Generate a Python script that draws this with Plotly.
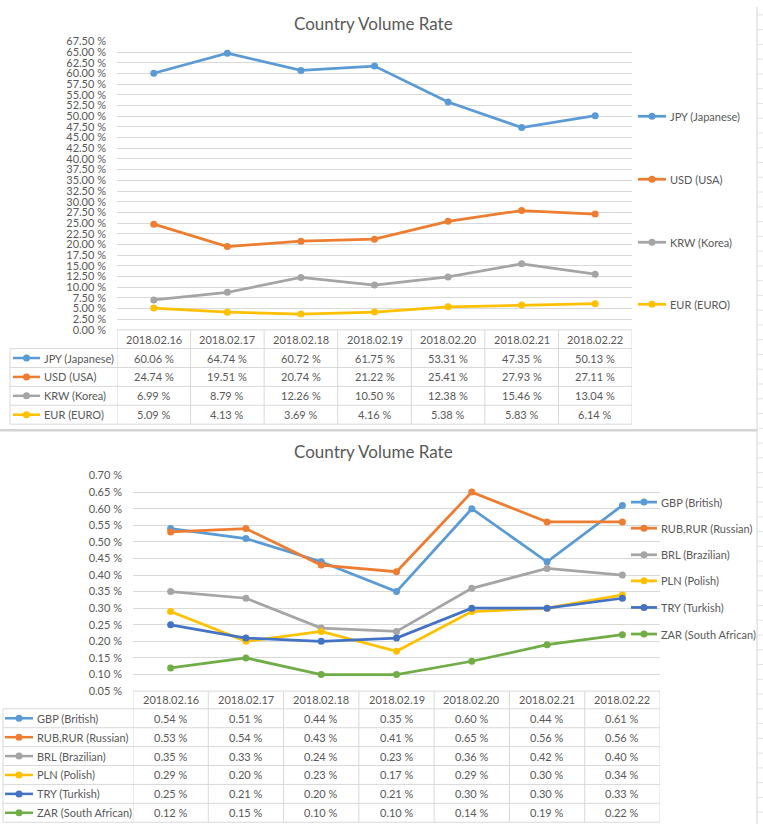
import plotly.graph_objects as go

# ---------------- data ----------------
dates = ["2018.02.16", "2018.02.17", "2018.02.18", "2018.02.19",
         "2018.02.20", "2018.02.21", "2018.02.22"]

names1 = ["JPY (Japanese)", "USD (USA)", "KRW (Korea)", "EUR (EURO)"]
jpy = [60.06, 64.74, 60.72, 61.75, 53.31, 47.35, 50.13]
usd = [24.74, 19.51, 20.74, 21.22, 25.41, 27.93, 27.11]
krw = [6.99, 8.79, 12.26, 10.50, 12.38, 15.46, 13.04]
eur = [5.09, 4.13, 3.69, 4.16, 5.38, 5.83, 6.14]
series1 = [jpy, usd, krw, eur]

names2 = ["GBP (British)", "RUB,RUR (Russian)", "BRL (Brazilian)",
          "PLN (Polish)", "TRY (Turkish)", "ZAR (South African)"]
gbp = [0.54, 0.51, 0.44, 0.35, 0.60, 0.44, 0.61]
rub = [0.53, 0.54, 0.43, 0.41, 0.65, 0.56, 0.56]
brl = [0.35, 0.33, 0.24, 0.23, 0.36, 0.42, 0.40]
pln = [0.29, 0.20, 0.23, 0.17, 0.29, 0.30, 0.34]
tryl = [0.25, 0.21, 0.20, 0.21, 0.30, 0.30, 0.33]
zar = [0.12, 0.15, 0.10, 0.10, 0.14, 0.19, 0.22]
series2 = [gbp, rub, brl, pln, tryl, zar]

title_text = "Country Volume Rate"

# ---------------- style ----------------
W, H = 763, 830
FONT = "Lato"
TXT = "#595959"
GRID = "#d9d9d9"
colors1 = ["#5B9BD5", "#ED7D31", "#A5A5A5", "#FFC000"]
colors2 = ["#5B9BD5", "#ED7D31", "#A5A5A5", "#FFC000", "#4472C4", "#70AD47"]


def X(px):
    return px / W


def Y(py):
    return 1 - py / H


fig = go.Figure()
shapes = []
annos = []

# chart geometry (pixels)
C1 = dict(xl=117, xr=632, yt=35, yb=328, tbl_left=10, hdr_b=347, row_h=19.2,
          key_x0=13, key_x1=40, key_tx=42, leg_y=[111, 175, 239, 302],
          leg_x0=638, leg_x1=666, leg_tx=668, title_y=17)
C2 = dict(xl=133, xr=660, yt=476, yb=695, tbl_left=3, hdr_b=713, row_h=19.2,
          key_x0=5, key_x1=33, key_tx=35,
          leg_y=[503, 529.5, 556.5, 583, 610, 637],
          leg_x0=631, leg_x1=657, leg_tx=659, title_y=452)


def build(idx, geo, names, series, colors, yrange, fmt):
    xa = "x" if idx == 1 else "x2"
    ya = "y" if idx == 1 else "y2"
    for nm, vals, col in zip(names, series, colors):
        fig.add_trace(go.Scatter(
            x=dates, y=vals, name=nm, mode="lines+markers",
            line=dict(color=col, width=2.75),
            marker=dict(color=col, size=7),
            xaxis=xa, yaxis=ya, showlegend=False,
            hovertemplate="%{x}: %{y:.2f} %<extra>" + nm + "</extra>"))
    axkey = "xaxis" if idx == 1 else "xaxis2"
    aykey = "yaxis" if idx == 1 else "yaxis2"
    fig.layout[axkey] = dict(
        domain=[X(geo["xl"]), X(geo["xr"])], range=[-0.5, len(dates) - 0.5],
        type="category", showticklabels=False, showgrid=False, zeroline=False,
        showline=False, anchor=ya, fixedrange=True)
    fig.layout[aykey] = dict(
        domain=[Y(geo["yb"]), Y(geo["yt"])], range=yrange,
        dtick=2.5 if idx == 1 else 0.05, tick0=0, tickformat=".2f",
        ticksuffix=" %", showgrid=True, gridcolor=GRID, gridwidth=1,
        zeroline=False, showline=False, ticks="", ticklabelstandoff=10,
        tickfont=dict(family=FONT, size=11, color=TXT), anchor=xa,
        fixedrange=True)

    xref = xa
    n = len(dates)
    hdr_t = geo["yb"]
    hdr_b = geo["hdr_b"]
    nrows = len(names)
    tbl_b = hdr_b + geo["row_h"] * nrows
    # header row top
    shapes.append(dict(type="line", xref=xref, yref="paper", x0=-0.5, x1=n - 0.5,
                       y0=Y(hdr_t), y1=Y(hdr_t), line=dict(color=GRID, width=1)))
    # horizontal rules below header and between rows
    for r in range(nrows + 1):
        yy = hdr_b + geo["row_h"] * r
        shapes.append(dict(type="line", xref="paper", yref="paper",
                           x0=X(geo["tbl_left"]), x1=X(geo["xr"]),
                           y0=Y(yy), y1=Y(yy), line=dict(color=GRID, width=1)))
    # vertical rules
    for k in range(n + 1):
        shapes.append(dict(type="line", xref=xref, yref="paper", x0=k - 0.5, x1=k - 0.5,
                           y0=Y(hdr_t), y1=Y(tbl_b), line=dict(color=GRID, width=1)))
    shapes.append(dict(type="line", xref="paper", yref="paper",
                       x0=X(geo["tbl_left"]), x1=X(geo["tbl_left"]),
                       y0=Y(hdr_b), y1=Y(tbl_b), line=dict(color=GRID, width=1)))
    # header labels
    for d in dates:
        annos.append(dict(x=d, y=Y((hdr_t + hdr_b) / 2), xref=xref, yref="paper",
                          text=d, showarrow=False, xanchor="center", yanchor="middle",
                          font=dict(family=FONT, size=11, color=TXT)))
    # rows
    for r, (nm, vals, col) in enumerate(zip(names, series, colors)):
        yc = hdr_b + geo["row_h"] * (r + 0.5)
        shapes.append(dict(type="line", xref="paper", yref="paper",
                           x0=X(geo["key_x0"]), x1=X(geo["key_x1"]),
                           y0=Y(yc), y1=Y(yc), line=dict(color=col, width=2.5)))
        xm = (geo["key_x0"] + geo["key_x1"]) / 2
        shapes.append(dict(type="circle", xref="paper", yref="paper",
                           xsizemode="pixel", ysizemode="pixel",
                           xanchor=X(xm), yanchor=Y(yc), x0=-3.5, x1=3.5, y0=-3.5, y1=3.5,
                           fillcolor=col, line=dict(color=col, width=0)))
        annos.append(dict(x=X(geo["key_tx"]), y=Y(yc), xref="paper", yref="paper",
                          text=nm, showarrow=False, xanchor="left", yanchor="middle",
                          font=dict(family=FONT, size=11, color=TXT)))
        for d, v in zip(dates, vals):
            annos.append(dict(x=d, y=Y(yc), xref=xref, yref="paper",
                              text=fmt.format(v), showarrow=False,
                              xanchor="center", yanchor="middle",
                              font=dict(family=FONT, size=11, color=TXT)))
    # right-hand legend
    for nm, col, ly in zip(names, colors, geo["leg_y"]):
        shapes.append(dict(type="line", xref="paper", yref="paper",
                           x0=X(geo["leg_x0"]), x1=X(geo["leg_x1"]),
                           y0=Y(ly), y1=Y(ly), line=dict(color=col, width=2.75)))
        xm = (geo["leg_x0"] + geo["leg_x1"]) / 2
        shapes.append(dict(type="circle", xref="paper", yref="paper",
                           xsizemode="pixel", ysizemode="pixel",
                           xanchor=X(xm), yanchor=Y(ly), x0=-3.5, x1=3.5, y0=-3.5, y1=3.5,
                           fillcolor=col, line=dict(color=col, width=0)))
        annos.append(dict(x=X(geo["leg_tx"]), y=Y(ly), xref="paper", yref="paper",
                          text=nm, showarrow=False, xanchor="left", yanchor="middle",
                          font=dict(family=FONT, size=11, color=TXT)))
    # title
    annos.append(dict(x=X(373), y=Y(geo["title_y"]), xref="paper", yref="paper",
                      text=title_text, showarrow=False, xanchor="center",
                      yanchor="middle", font=dict(family=FONT, size=17, color=TXT)))


build(1, C1, names1, series1, colors1, [0, 67.5], "{:.2f} %")
build(2, C2, names2, series2, colors2, [0.05, 0.70], "{:.2f} %")

# divider between the two charts
shapes.append(dict(type="line", xref="paper", yref="paper", x0=0, x1=X(757),
                   y0=Y(430), y1=Y(430), line=dict(color="#d4d4d4", width=2.5)))
# right-hand worksheet edge with row ticks
shapes.append(dict(type="line", xref="paper", yref="paper", x0=X(757), x1=X(757),
                   y0=0, y1=1, line=dict(color="#d4d4d4", width=1)))
ty = 8
while ty < H:
    shapes.append(dict(type="line", xref="paper", yref="paper", x0=X(757), x1=1,
                       y0=Y(ty), y1=Y(ty), line=dict(color="#e3e3e3", width=1)))
    ty += 15

fig.update_layout(
    width=W, height=H, margin=dict(l=0, r=0, t=0, b=0),
    paper_bgcolor="white", plot_bgcolor="white",
    shapes=shapes, annotations=annos, showlegend=False,
    font=dict(family=FONT, color=TXT),
)

fig.write_html(
    "out.html",
    config={"displayModeBar": False},
    post_script="document.body.style.margin='0';"
                "document.documentElement.style.overflow='hidden';",
)
